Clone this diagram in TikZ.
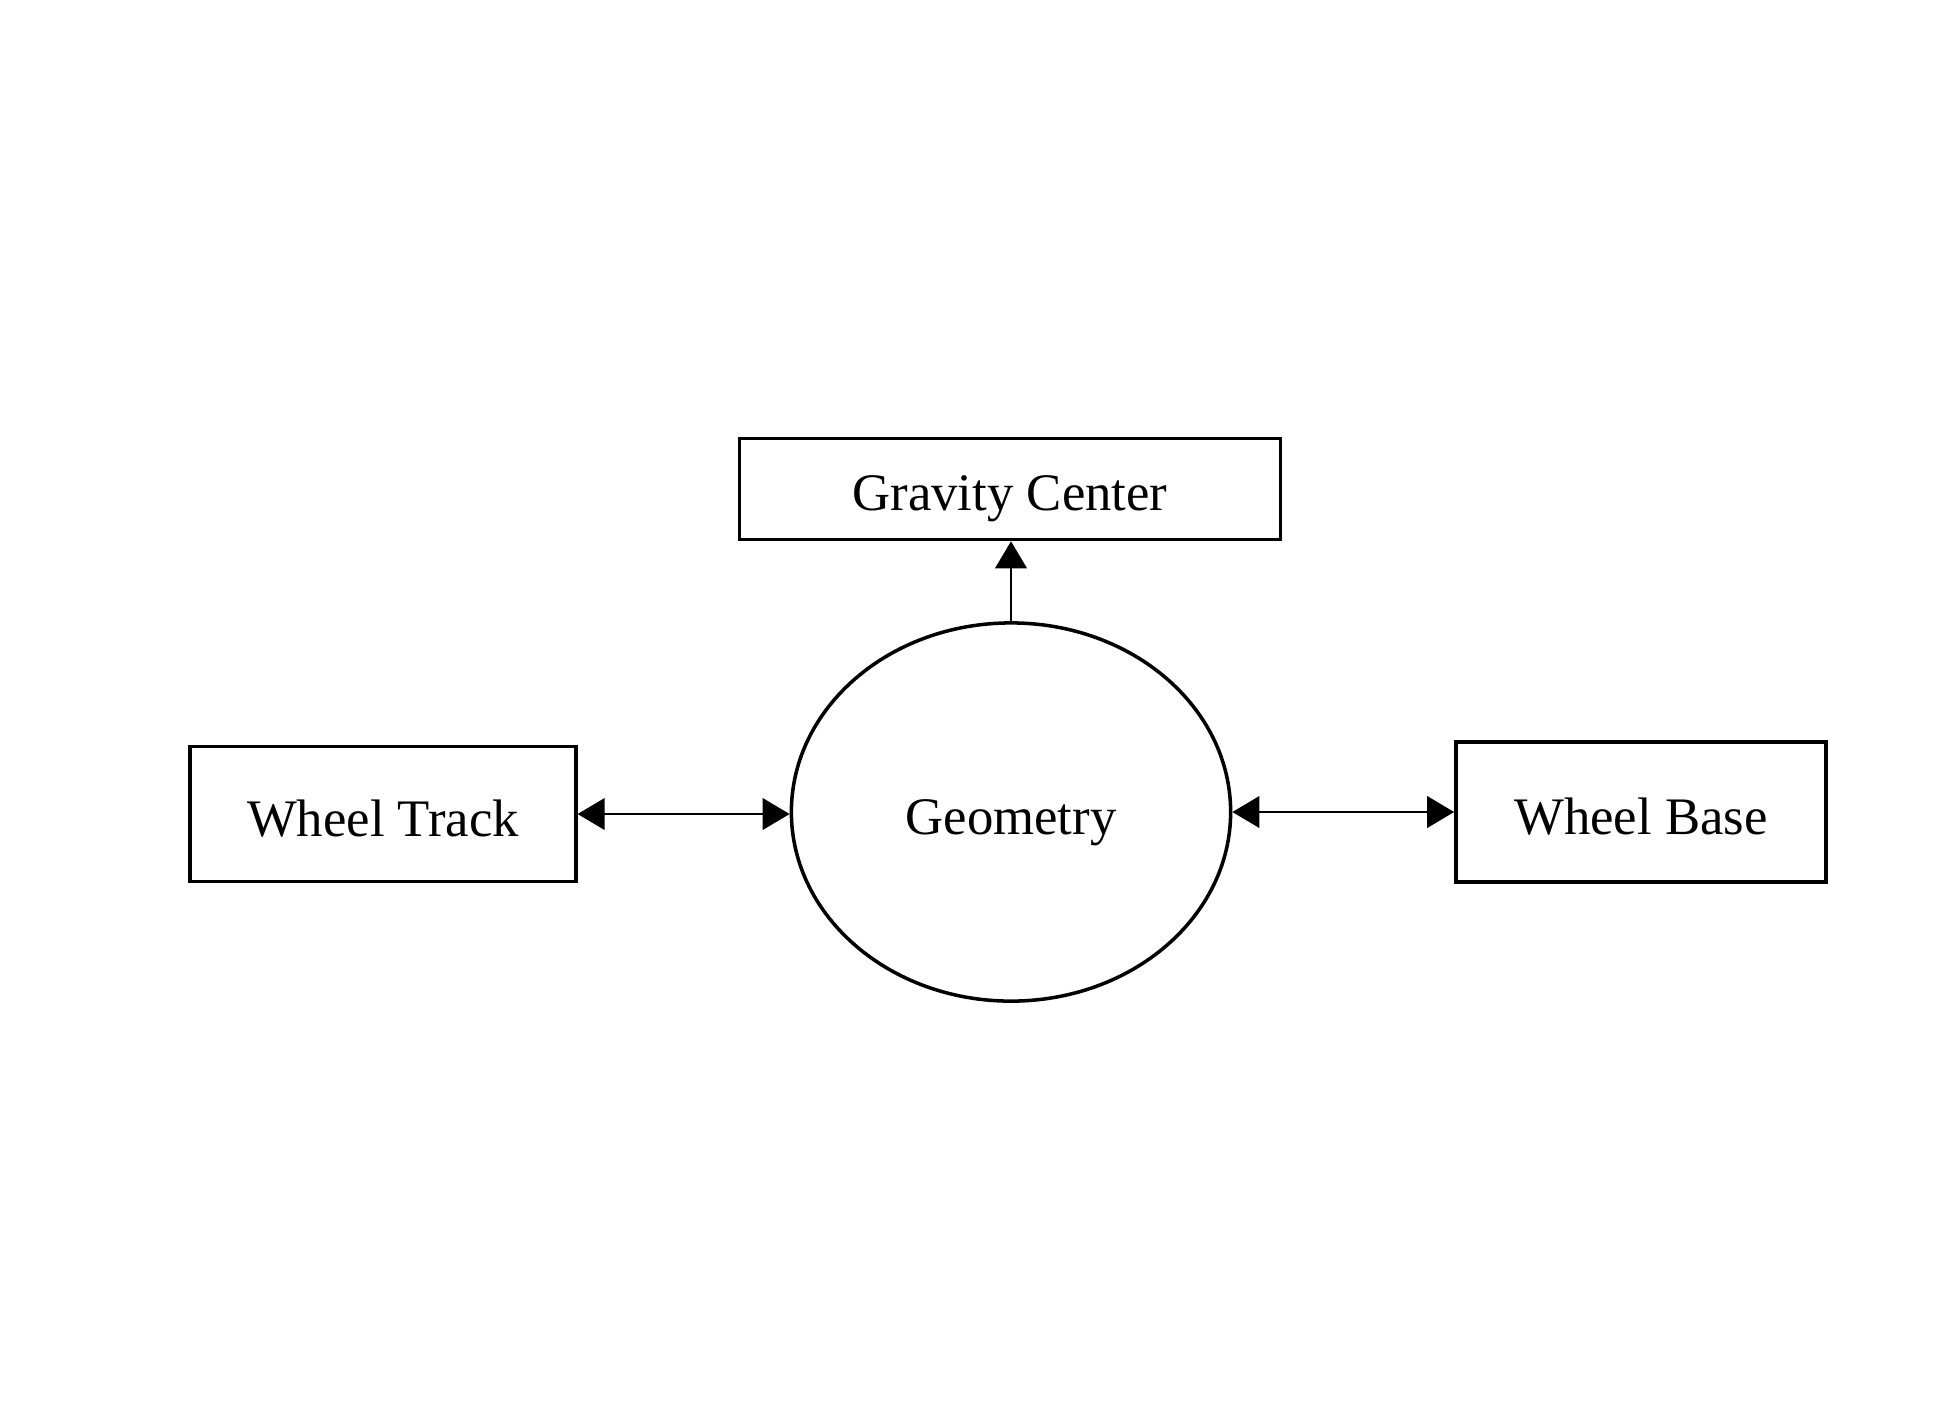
\documentclass[tikz,border=0pt]{standalone}
\usepackage{fontspec}
\setmainfont{Liberation Serif}
\usetikzlibrary{shapes.geometric,arrows.meta}
\begin{document}
\begin{tikzpicture}[x=0.01cm,y=-0.01cm,
  lbl/.style={font=\fontsize{15}{18}\selectfont,text height=12.5pt,text depth=0pt},
  box/.style={draw,line width=1pt,rectangle,inner sep=0pt,lbl},
  link/.style={line width=0.6pt,{Triangle[length=7.7pt,width=9pt]}-{Triangle[length=7.7pt,width=9pt]}},
  uplink/.style={line width=0.6pt,-{Triangle[length=7.7pt,width=9pt]}}]
\useasboundingbox[fill=white] (0,0) rectangle (1949,1417);
\node[box,minimum width=3.855cm,minimum height=1.35cm] (track) at (383,814) {Wheel Track};
\node[box,minimum width=3.70cm,minimum height=1.40cm] (base) at (1641,812) {Wheel Base};
\node[box,minimum width=5.41cm,minimum height=1.01cm] (grav) at (1010,489) {Gravity Center};
\node[draw,line width=1pt,ellipse,inner sep=0pt,minimum width=4.39cm,minimum height=3.78cm,lbl] (geo) at (1011,812) {Geometry};
\draw[link] (track.east) -- (track.east -| geo.west);
\draw[link] (geo.east) -- (geo.east -| base.west);
\draw[uplink] (geo.north) -- (geo.north |- grav.south);
\end{tikzpicture}
\end{document}
